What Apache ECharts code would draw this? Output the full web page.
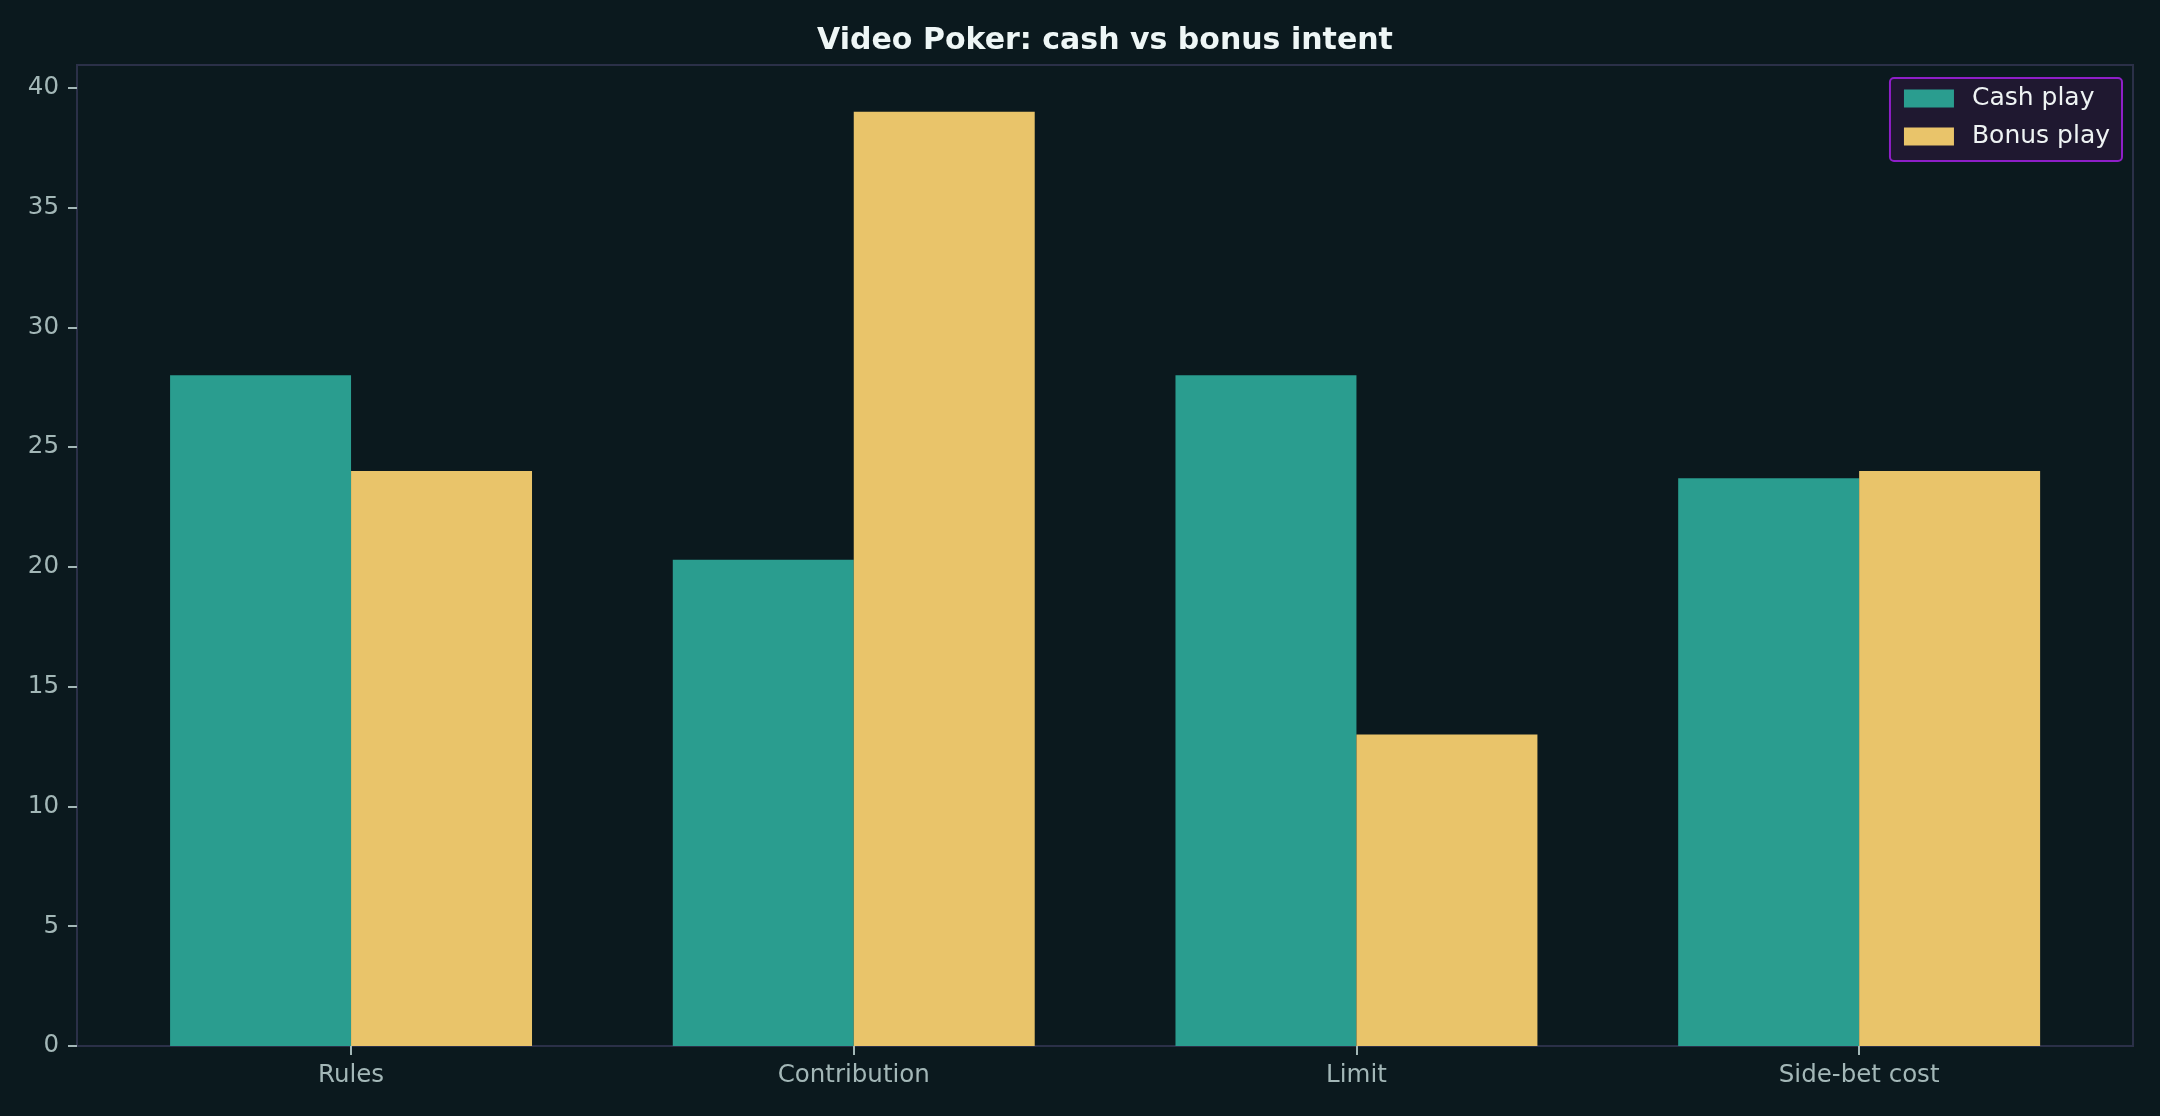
<!DOCTYPE html>
<html>
<head>
<meta charset="utf-8">
<script src="https://cdn.jsdelivr.net/npm/echarts@6/dist/echarts.min.js"></script>
<style>
html,body{margin:0;padding:0;background:#0b191e;}
#chart{width:2160px;height:1116px;}
</style>
</head>
<body>
<div id="chart"></div>
<script>
const categories = ['Rules', 'Contribution', 'Limit', 'Side-bet cost'];
const cashPlay = [28.0, 20.3, 28.0, 23.7];
const bonusPlay = [24.0, 39.0, 13.0, 24.0];
const yTicks = [0, 5, 10, 15, 20, 25, 30, 35, 40];
const titleText = 'Video Poker: cash vs bonus intent';
const seriesNames = ['Cash play', 'Bonus play'];

const FONT = 'DejaVu Sans';
const labelColor = '#a3b7b7';
const frameColor = '#2b3048';
const yMax = 40.95;

const chart = echarts.init(document.getElementById('chart'), null, {renderer: 'canvas'});
chart.setOption({
  backgroundColor: '#0b191e',
  animation: false,
  textStyle: {fontFamily: FONT},
  graphic: [{
    type: 'text', x: 1105, y: 41.5,
    style: {text: titleText, fill: '#eef6f6', font: 'bold 30px "DejaVu Sans"', align: 'center', verticalAlign: 'middle'}
  }],
  legend: {
    orient: 'vertical', right: 38, top: 78,
    padding: [8, 12, 12, 14],
    itemWidth: 50, itemHeight: 18, itemGap: 13,
    icon: 'rect',
    backgroundColor: '#1f1830',
    borderColor: '#8e1fc8', borderWidth: 2, borderRadius: 4,
    textStyle: {color: '#eef3f3', fontSize: 25, fontFamily: FONT, lineHeight: 25, padding: [0, 0, 0, 13]},
    data: seriesNames
  },
  grid: [
    {left: 77, right: 27, top: 65, bottom: 70, show: true, borderColor: frameColor, borderWidth: 2, backgroundColor: 'transparent'},
    {left: 99.7, right: 49.5, top: 65, bottom: 70}
  ],
  xAxis: [
    {type: 'value', gridIndex: 0, show: false, min: 0, max: 1},
    {
      type: 'category', gridIndex: 1, data: categories, boundaryGap: true,
      axisLine: {show: false},
      axisTick: {show: true, alignWithLabel: true, length: 9, lineStyle: {color: labelColor, width: 2}},
      axisLabel: {color: labelColor, fontSize: 24.5, fontFamily: FONT, margin: 17}
    }
  ],
  yAxis: [
    {
      type: 'value', gridIndex: 0, min: 0, max: yMax, interval: 5,
      axisLine: {show: false},
      splitLine: {show: false},
      axisTick: {show: true, length: 9, lineStyle: {color: labelColor, width: 2}, customValues: yTicks},
      axisLabel: {color: labelColor, fontSize: 24.5, fontFamily: FONT, margin: 18, customValues: yTicks}
    },
    {type: 'value', gridIndex: 1, min: 0, max: yMax, show: false}
  ],
  series: [
    {name: seriesNames[0], type: 'bar', xAxisIndex: 1, yAxisIndex: 1, data: cashPlay,
     itemStyle: {color: '#2a9d8f'}, barGap: '0%', barCategoryGap: '28%'},
    {name: seriesNames[1], type: 'bar', xAxisIndex: 1, yAxisIndex: 1, data: bonusPlay,
     itemStyle: {color: '#e9c46a'}, barGap: '0%', barCategoryGap: '28%'}
  ]
});
</script>
</body>
</html>
